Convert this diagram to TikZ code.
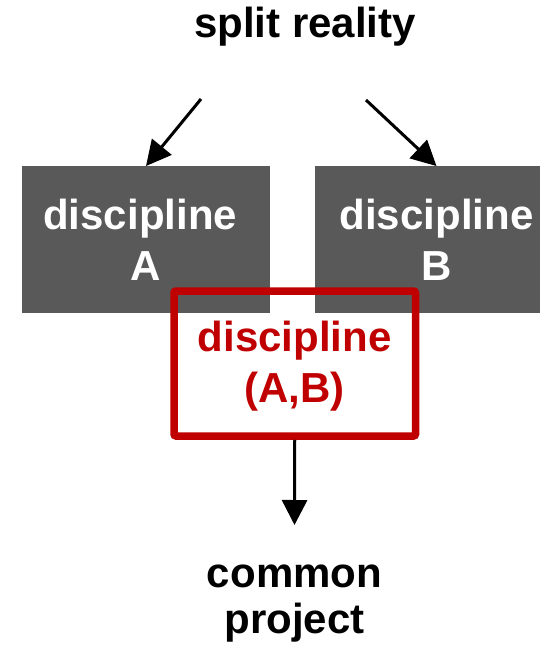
\documentclass[tikz,border=0pt]{standalone}
\usepackage{fontspec}
\setmainfont{Liberation Sans}
\usetikzlibrary{arrows.meta}
\definecolor{boxgray}{HTML}{595959}
\definecolor{boxred}{HTML}{C00000}
\begin{document}
\begin{tikzpicture}[x=1pt,y=-1pt,
  lbl/.style={font=\bfseries\fontsize{42}{51}\selectfont, align=center, inner sep=0pt},
  graybox/.style={lbl, fill=boxgray, text=white, minimum height=146.5pt},
  redbox/.style={lbl, draw=boxred, line width=7.5pt, text=boxred, rounded corners=2pt, minimum width=241.5pt, minimum height=145pt},
  arr/.style={line width=3pt, -{Triangle[length=25pt,width=25pt]}}]
\useasboundingbox (0,0) rectangle (540,646);
\clip (0,0) rectangle (540,646);
\fill[white] (0,0) rectangle (540,646);
\node[lbl, anchor=base] (top) at (305,37) {split reality};
\node[graybox, minimum width=248pt] (a) at (146,239.5) {discipline\kern11.7pt\\A};
\node[graybox, minimum width=243pt] (b) at (436.5,239.5) {discipline\\B};
\node[redbox] (r) at (294.75,363.5) {\rule{0pt}{35.6pt}discipline\\(A,B)};
\node[lbl, font=\bfseries\fontsize{42}{46}\selectfont, anchor=base] (cp) at (294.5,633) {common\\project};
\coordinate (s1) at (201,99);
\coordinate (s2) at (366,100);
\coordinate (e3) at (294.5,525);
\draw[arr] (s1) -- (a.north);
\draw[arr] (s2) -- (b.north);
\draw[arr] (r.south) -- (e3);
\end{tikzpicture}
\end{document}
